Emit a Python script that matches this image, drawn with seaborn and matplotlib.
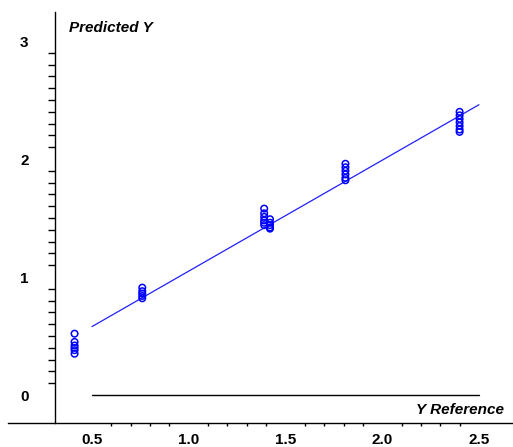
import matplotlib
matplotlib.use("Agg")
import matplotlib.pyplot as plt
import seaborn as sns
import pandas as pd
from matplotlib.ticker import FixedLocator, FixedFormatter

# ---- data ----
y_reference = [0.41, 0.41, 0.41, 0.41, 0.41, 0.41,
               0.76, 0.76, 0.76, 0.76, 0.76,
               1.39, 1.39, 1.39, 1.39, 1.39, 1.39,
               1.42, 1.42, 1.42, 1.42, 1.42,
               1.81, 1.81, 1.81, 1.81, 1.81, 1.81,
               2.40, 2.40, 2.40, 2.40, 2.40, 2.40, 2.40]
predicted_y = [0.52, 0.45, 0.42, 0.40, 0.38, 0.35,
               0.91, 0.88, 0.86, 0.84, 0.82,
               1.58, 1.54, 1.51, 1.48, 1.46, 1.44,
               1.49, 1.46, 1.44, 1.42, 1.41,
               1.96, 1.93, 1.90, 1.87, 1.84, 1.82,
               2.40, 2.37, 2.34, 2.31, 2.28, 2.25, 2.23]
fit_x = [0.5, 2.5]
fit_y = [0.58, 2.46]
zero_x = [0.5, 2.5]
zero_y = [0.0, 0.0]
x_ticks = [0.5, 1.0, 1.5, 2.0, 2.5]
x_tick_labels = ["0.5", "1.0", "1.5", "2.0", "2.5"]
y_ticks = [0, 1, 2, 3]
y_tick_labels = ["0", "1", "2", "3"]
x_title = "Y Reference"
y_title = "Predicted Y"

sns.set_theme(style="white")
plt.rcParams['font.family'] = ['Liberation Sans', 'DejaVu Sans']
plt.rcParams['text.color'] = 'black'
plt.rcParams['xtick.color'] = 'black'
plt.rcParams['ytick.color'] = 'black'

df = pd.DataFrame({"ref": y_reference, "pred": predicted_y})
fit_df = pd.DataFrame({"x": fit_x, "y": fit_y})
zero_df = pd.DataFrame({"x": zero_x, "y": zero_y})

fig = plt.figure(figsize=(5.13, 4.47), dpi=100)
ax = fig.add_axes([8/513, 24/447, 505/513, 411/447])

sns.lineplot(data=zero_df, x="x", y="y", ax=ax, color="black", linewidth=1.0)
sns.lineplot(data=fit_df, x="x", y="y", ax=ax, color="#2020ff", linewidth=0.9)
sns.scatterplot(data=df, x="ref", y="pred", ax=ax, marker="o", s=22,
                facecolor="none", edgecolor="blue", linewidth=1.1, zorder=3)

ax.set_xlim(0.066, 2.676)
ax.set_ylim(-0.237, 3.246)

for s in ["top", "right"]:
    ax.spines[s].set_visible(False)
ax.spines["left"].set_position(("data", 0.309))
for s in ["left", "bottom"]:
    ax.spines[s].set_color("black")
    ax.spines[s].set_linewidth(1.0)

ax.xaxis.set_major_locator(FixedLocator(x_ticks))
ax.xaxis.set_major_formatter(FixedFormatter(x_tick_labels))
ax.xaxis.set_minor_locator(FixedLocator([0.6, 0.7, 0.8, 0.9, 1.1, 1.2, 1.3, 1.4,
                                         1.6, 1.7, 1.8, 1.9, 2.1, 2.2, 2.3, 2.4]))
ax.yaxis.set_major_locator(FixedLocator(y_ticks))
ax.yaxis.set_major_formatter(FixedFormatter(y_tick_labels))
ax.yaxis.set_minor_locator(FixedLocator([v / 10 for v in range(1, 30) if v % 10 != 0]))

ax.tick_params(axis="x", which="major", direction="out", length=5.8, width=1,
               color="black", pad=1.5, labelsize=11, labelcolor="black")
ax.tick_params(axis="x", which="minor", direction="out", length=2.5, width=1,
               color="black", bottom=True)
ax.tick_params(axis="y", which="major", direction="out", length=13, width=1,
               color="black", pad=6, labelsize=11, labelcolor="black")
ax.tick_params(axis="y", which="minor", direction="out", length=5, width=1,
               color="black", left=True)
for lab in ax.get_xticklabels() + ax.get_yticklabels():
    lab.set_fontweight("bold")

ax.set_xlabel("")
ax.set_ylabel("")
ax.text(0.38, 3.11, y_title, fontsize=11, fontweight="bold", fontstyle="italic",
        ha="left", va="center", color="black")
ax.text(2.63, -0.13, x_title, fontsize=11, fontweight="bold", fontstyle="italic",
        ha="right", va="center", color="black")

ax.grid(False)
fig.savefig("out.png", dpi=100, facecolor="white")
